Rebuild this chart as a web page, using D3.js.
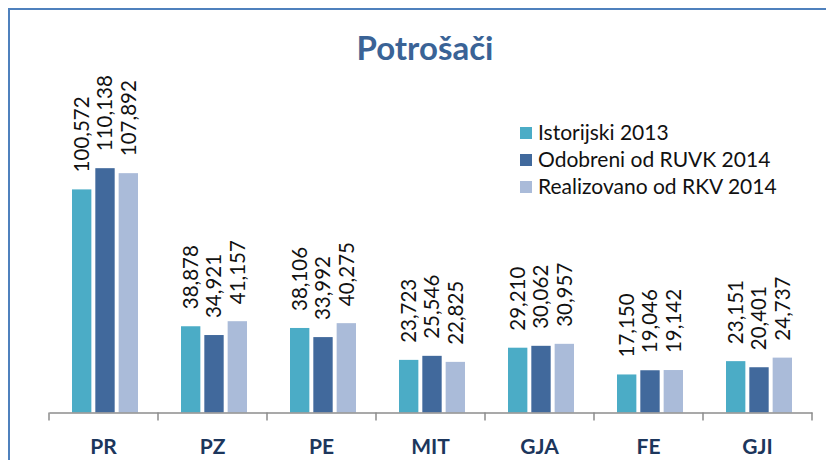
<html>
  <head>
    <meta charset="utf-8">
    <style>
body { margin: 0; background: #fff; }
text { font-family: Lato, "Open Sans", sans-serif; }
.axis--x path, .axis--x line { stroke: #8c8c8c; stroke-width: 1.5px; }
.axis--x text { font-size: 21px; font-weight: bold; fill: #1c365c; }
.val { font-size: 20.5px; fill: #111; }
.legend text { font-size: 21px; fill: #111; }
    </style>
    <script src="https://d3js.org/d3.v7.min.js"></script>
  </head>
  <body>
    <svg width="826" height="460"></svg>
    <script>

var categories = ["PR", "PZ", "PE", "MIT", "GJA", "FE", "GJI"];
var seriesNames = ["Istorijski 2013", "Odobreni od RUVK 2014", "Realizovano od RKV 2014"];
var istorijski = [100572, 38878, 38106, 23723, 29210, 17150, 23151];
var odobreni   = [110138, 34921, 33992, 25546, 30062, 19046, 20401];
var realizovano = [107892, 41157, 40275, 22825, 30957, 19142, 24737];
var colors = ["#4bacc6", "#41699c", "#aabbd9"];

var series = [istorijski, odobreni, realizovano];

var svg = d3.select("svg");

// outer frame (only top/left visible in the crop)
svg.append("rect")
  .attr("x", 9).attr("y", 9)
  .attr("width", 900).attr("height", 600)
  .attr("fill", "none")
  .attr("stroke", "#4f81bd")
  .attr("stroke-width", 2);

svg.append("text")
  .attr("x", 425).attr("y", 60)
  .attr("text-anchor", "middle")
  .style("font-size", "33px")
  .style("font-weight", "bold")
  .style("fill", "#3a6396")
  .text("Potrošači");

var x = d3.scaleBand().domain(categories).range([49, 812]);
var inner = d3.scaleBand().domain([0, 1, 2]).range([0, 66]).paddingInner(0.17);
var y = d3.scaleLinear().domain([0, 120000]).range([412.5, 146.3]);

var g = svg.append("g");

var groups = g.selectAll(".grp")
  .data(categories)
  .enter().append("g")
  .attr("class", "grp")
  .attr("transform", function(d) { return "translate(" + (x(d) + x.bandwidth() / 2 - 31.5) + ",0)"; });

groups.each(function(c, i) {
  var sel = d3.select(this);
  series.forEach(function(s, k) {
    sel.append("rect")
      .attr("x", inner(k))
      .attr("y", y(s[i]))
      .attr("width", inner.bandwidth())
      .attr("height", y(0) - y(s[i]))
      .attr("fill", colors[k]);
    var cx = inner(k) + inner.bandwidth() / 2;
    sel.append("text")
      .attr("class", "val")
      .attr("transform", "translate(" + cx + "," + (y(s[i]) - 17) + ") rotate(-90)")
      .attr("dy", "0.36em")
      .text(d3.format(",")(s[i]));
  });
});

var xAxis = svg.append("g")
  .attr("class", "axis axis--x")
  .attr("transform", "translate(0,412.5)")
  .call(d3.axisBottom(x).tickSize(0).tickSizeOuter(0).tickPadding(30));

xAxis.selectAll(".tick line").remove();
// category boundary ticks
xAxis.selectAll(".bound")
  .data(categories.concat([null]))
  .enter().append("line")
  .attr("x1", function(d, i) { return i < categories.length ? x(d) : x.range()[1]; })
  .attr("x2", function(d, i) { return i < categories.length ? x(d) : x.range()[1]; })
  .attr("y1", 0).attr("y2", 8);
xAxis.selectAll(".tick text").attr("dy", "0.71em").attr("y", 27);

var legend = svg.append("g").attr("class", "legend");
seriesNames.forEach(function(name, k) {
  var ly = 133 + k * 27;
  legend.append("rect")
    .attr("x", 520).attr("y", ly - 6)
    .attr("width", 12).attr("height", 12)
    .attr("fill", colors[k]);
  legend.append("text")
    .attr("x", 538).attr("y", ly)
    .attr("dy", "0.35em")
    .text(name);
});

    </script>
  </body>
</html>
